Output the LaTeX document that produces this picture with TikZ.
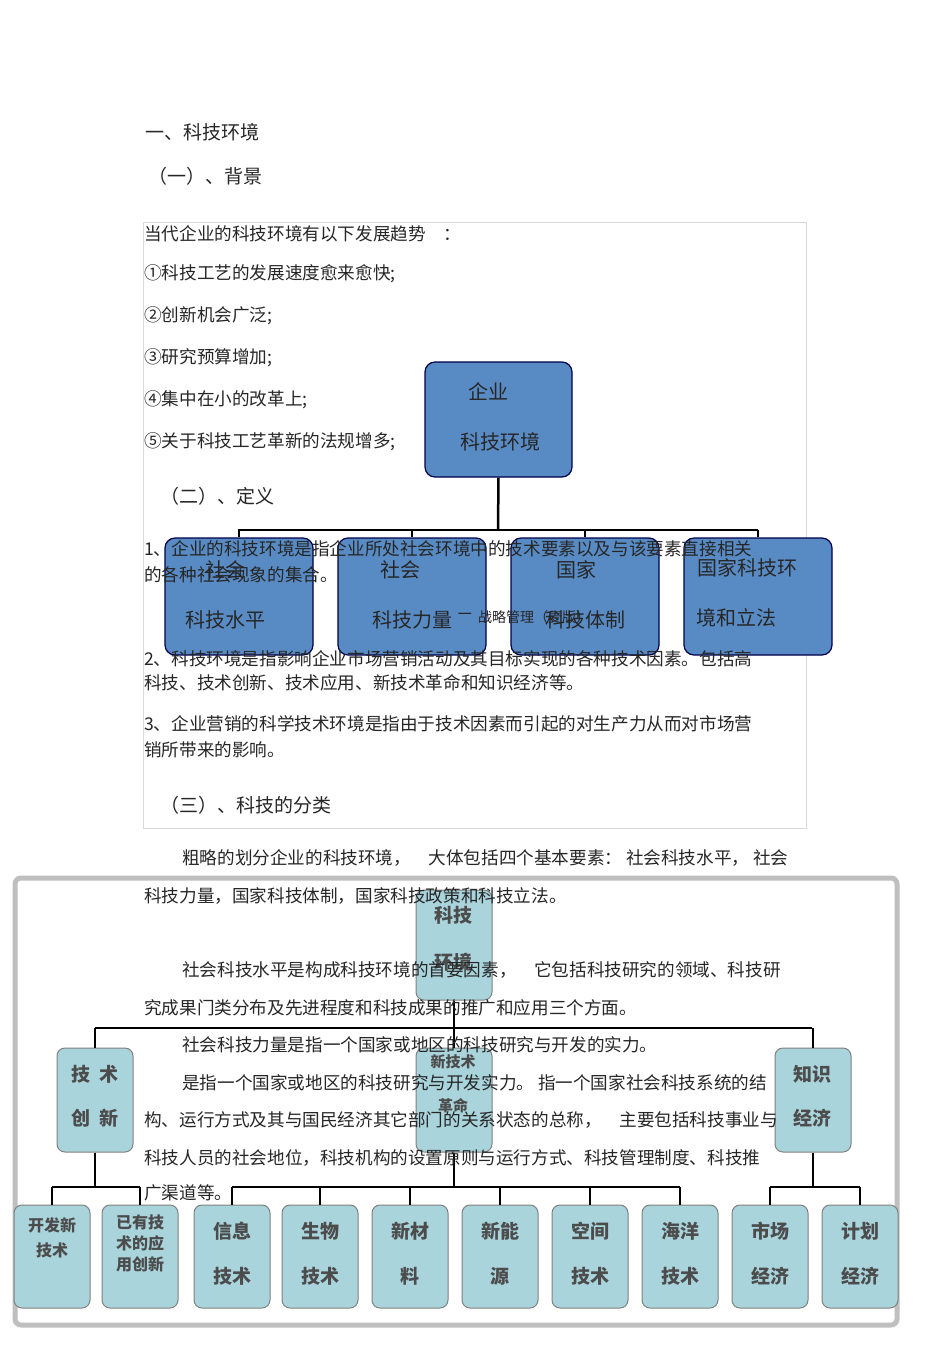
\documentclass[tikz,border=0pt]{standalone}
\usepackage{fontspec}
\setmainfont{Noto Sans CJK SC}
\begin{document}
\begin{tikzpicture}[x=1pt,y=-1pt,
  txt/.style={anchor=west,inner sep=0pt,font=\fontsize{17.6}{19}\selectfont,text=black!85},
  bluebox/.style={draw=black!70!blue,line width=1.2pt,rounded corners=10pt,fill={rgb,255:red,88;green,139;blue,196}},
  tealbox/.style={draw=gray,line width=1pt,fill={rgb,255:red,170;green,212;blue,220},rounded corners=8pt},
  btxt/.style={font=\fontsize{20}{22}\selectfont,text=black!85,inner sep=0pt},
  ttxt/.style={font=\fontsize{19}{20}\selectfont\bfseries,text=black!70,inner sep=0pt},
  conn/.style={line width=2.5pt,black}]
\useasboundingbox (0,0) rectangle (950,1345);
\fill[white] (0,0) rectangle (950,1345);
% frames
\draw[black!15,line width=0.6pt] (143,222) rectangle (806,828);
\draw[black!25,line width=5pt,rounded corners=6pt] (15,878) rectangle (897,1325);
% upper chart
\node[bluebox,minimum width=147,minimum height=115] (E) at (498.5,419.5) {};
\node[btxt] at (488,392) {企业};
\node[btxt] at (500,442) {科技环境};
\coordinate (j1) at (498,530);
\draw[conn] (E.south) -- (j1);
\draw[conn] (238,530) -- (758,530);
\foreach \x/\n in {239/A1,412/A2,585/A3,758/A4}{
  \node[bluebox,minimum width=148,minimum height=117] (\n) at (\x,596.5) {};
  \draw[conn] (\x,530) -- (\n.north);
}
\node[btxt] at (225,570) {社会}; \node[btxt] at (225,620) {科技水平};
\node[btxt] at (400,570) {社会}; \node[btxt] at (412,620) {科技力量};
\node[btxt] at (576,570) {国家}; \node[btxt] at (585,620) {科技体制};
\node[btxt] at (747,568) {国家科技环}; \node[btxt] at (736,618) {境和立法};
% lower chart
\node[tealbox,minimum width=76,minimum height=110] (K) at (454,945) {};
\node[ttxt] at (453,915) {科技}; \node[ttxt] at (453,962) {环境};
\draw[conn] (K.south) -- (454,1028);
\draw[conn] (95,1028) -- (812,1028);
\node[tealbox,minimum width=76,minimum height=104] (L) at (95,1100) {};
\node[tealbox,minimum width=76,minimum height=104] (M) at (454,1100) {};
\node[tealbox,minimum width=76,minimum height=104] (R) at (813,1100) {};
\draw[conn] (95,1028) -- (L.north); \draw[conn] (454,1028) -- (M.north); \draw[conn] (813,1028) -- (R.north);
\node[ttxt] at (95,1074) {技\ \ 术}; \node[ttxt] at (95,1118) {创\ \ 新};
\node[ttxt,font=\fontsize{15}{17}\selectfont\bfseries] at (453,1062) {新技术}; \node[ttxt,font=\fontsize{15}{17}\selectfont\bfseries] at (453,1106) {革命};
\node[ttxt] at (812,1074) {知识}; \node[ttxt] at (812,1118) {经济};
\draw[conn] (L.south) -- (95,1187); \draw[conn] (52,1187) -- (140,1187);
\draw[conn] (M.south) -- (454,1187); \draw[conn] (232,1187) -- (680,1187);
\draw[conn] (R.south) -- (813,1187); \draw[conn] (770,1187) -- (860,1187);
\foreach \x/\n in {52/B1,140/B2,232/B3,320/B4,410/B5,500/B6,590/B7,680/B8,770/B9,860/B10}{
  \node[tealbox,minimum width=76,minimum height=103] (\n) at (\x,1256.5) {};
  \draw[conn] (\x,1187) -- (\n.north);
}
\node[ttxt,font=\fontsize{16}{17}\selectfont\bfseries,align=center] at (52,1238) {开发新\\[8pt]技术};
\node[ttxt,font=\fontsize{16}{21}\selectfont\bfseries,align=center] at (140,1243) {已有技\\术的应\\用创新};
\foreach \x/\a/\b in {232/信息/技术,320/生物/技术,410/新材/料,500/新能/源,590/空间/技术,680/海洋/技术,770/市场/经济,860/计划/经济}{
  \node[ttxt] at (\x,1231) {\a}; \node[ttxt] at (\x,1276) {\b};
}
% text
\node[txt,font=\fontsize{19}{20}\selectfont] at (145,132) {一、科技环境};
\node[txt,font=\fontsize{19}{20}\selectfont] at (148,176) {（一）、背景};
\node[txt] at (144,234) {当代企业的科技环境有以下发展趋势\quad ：};
\node[txt] at (144,274) {①科技工艺的发展速度愈来愈快;};
\node[txt] at (144,316) {②创新机会广泛;};
\node[txt] at (144,358) {③研究预算增加;};
\node[txt] at (144,400) {④集中在小的改革上;};
\node[txt] at (144,442) {⑤关于科技工艺革新的法规增多;};
\node[txt,font=\fontsize{19}{20}\selectfont] at (160,496) {（二）、定义};
\node[txt] at (144,549) {1、企业的科技环境是指企业所处社会环境中的技术要素以及与该要素直接相关};
\node[txt] at (144,575) {的各种社会现象的集合。};
\node[txt] at (456,617) {－};
\node[txt,font=\fontsize{14}{15}\selectfont] at (478,617) {战略管理（麦版）};
\node[txt] at (144,659) {2、科技环境是指影响企业市场营销活动及其目标实现的各种技术因素。包括高};
\node[txt] at (144,683) {科技、技术创新、技术应用、新技术革命和知识经济等。};
\node[txt] at (144,724) {3、企业营销的科学技术环境是指由于技术因素而引起的对生产力从而对市场营};
\node[txt] at (144,750) {销所带来的影响。};
\node[txt,font=\fontsize{19}{20}\selectfont] at (160,805) {（三）、科技的分类};
\node[txt] at (182,858) {粗略的划分企业的科技环境，\quad 大体包括四个基本要素：\ 社会科技水平，\ 社会};
\node[txt] at (144,896) {科技力量，国家科技体制，国家科技政策和科技立法。};
\node[txt] at (182,970) {社会科技水平是构成科技环境的首要因素，\quad 它包括科技研究的领域、科技研};
\node[txt] at (144,1008) {究成果门类分布及先进程度和科技成果的推广和应用三个方面。};
\node[txt] at (182,1045) {社会科技力量是指一个国家或地区的科技研究与开发的实力。};
\node[txt] at (182,1083) {是指一个国家或地区的科技研究与开发实力。\ 指一个国家社会科技系统的结};
\node[txt] at (144,1120) {构、运行方式及其与国民经济其它部门的关系状态的总称，\quad 主要包括科技事业与};
\node[txt] at (144,1158) {科技人员的社会地位，科技机构的设置原则与运行方式、科技管理制度、科技推};
\node[txt] at (144,1193) {广渠道等。};
\end{tikzpicture}
\end{document}
